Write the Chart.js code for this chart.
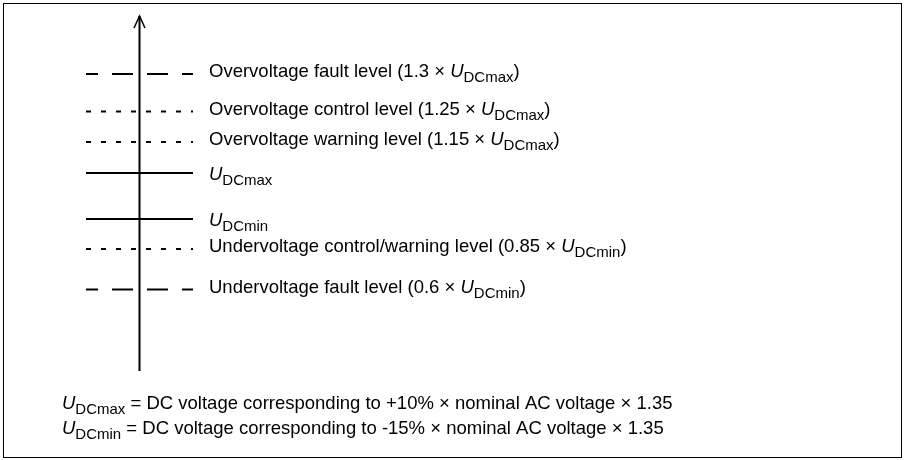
<!DOCTYPE html>
<html>
<head>
<meta charset="utf-8">
<script src="https://cdn.jsdelivr.net/npm/chart.js@4/dist/chart.umd.min.js"></script>
<style>
  html, body { margin: 0; padding: 0; background: #fff; }
  #wrap { position: relative; width: 907px; height: 460px; }
</style>
</head>
<body>
<div id="wrap"><canvas id="levels"></canvas></div>
<script>
// schematic height of each level on the vertical axis (axis runs 0..axisTop)
const levelType = ["fault", "control", "control", "limit", "limit", "control", "fault"];
const levelValues = [297, 259.5, 229, 198, 152, 122, 81.5];
const axisTop = 355;

// label text: prefix, then italic U with subscript, then suffix
const labelPre = [
  "Overvoltage fault level (1.3 × ",
  "Overvoltage control level (1.25 × ",
  "Overvoltage warning level (1.15 × ",
  "",
  "",
  "Undervoltage control/warning level (0.85 × ",
  "Undervoltage fault level (0.6 × "
];
const labelSub = ["DCmax", "DCmax", "DCmax", "DCmax", "DCmin", "DCmin", "DCmin"];
const labelPost = [")", ")", ")", "", "", ")", ")"];

const noteSub = ["DCmax", "DCmin"];
const noteText = [
  " = DC voltage corresponding to +10% × nominal AC voltage × 1.35",
  " = DC voltage corresponding to -15% × nominal AC voltage × 1.35"
];

const FONT = '"Liberation Sans", Arial, sans-serif';
const lineStyle = {
  fault: { dash: [21, 14], offset: 9 },
  control: { dash: [5, 10], offset: 0 },
  limit: { dash: [], offset: 0 }
};

const datasets = levelValues.map((v, i) => ({
  data: [{ x: -1, y: v }, { x: 1, y: v }],
  showLine: true,
  borderColor: "#000",
  borderWidth: 2,
  borderDash: lineStyle[levelType[i]].dash,
  borderDashOffset: lineStyle[levelType[i]].offset,
  borderCapStyle: "butt",
  pointRadius: 0
}));

// the vertical axis itself
datasets.push({
  data: [{ x: 0, y: 0 }, { x: 0, y: axisTop }],
  showLine: true,
  borderColor: "#000",
  borderWidth: 2,
  borderCapStyle: "butt",
  pointRadius: 0
});

function richText(ctx, x, y, pre, sub, post) {
  ctx.font = "18.5px " + FONT;
  ctx.fillText(pre, x, y);
  x += ctx.measureText(pre).width;
  ctx.font = "italic 18.5px " + FONT;
  ctx.fillText("U", x, y);
  x += ctx.measureText("U").width;
  ctx.font = "15px " + FONT;
  ctx.fillText(sub, x, y + 5);
  x += ctx.measureText(sub).width;
  ctx.font = "18.5px " + FONT;
  ctx.fillText(post, x, y);
}

const decor = {
  id: "decor",
  afterDraw(chart) {
    const ctx = chart.ctx;
    const xs = chart.scales.x, ys = chart.scales.y;
    ctx.save();
    // frame
    ctx.strokeStyle = "#000";
    ctx.lineWidth = 1;
    ctx.strokeRect(3.5, 3.5, 898, 454);

    // arrow head
    const ax = xs.getPixelForValue(0), ay = ys.getPixelForValue(axisTop);
    ctx.lineWidth = 1.5;
    ctx.beginPath();
    ctx.moveTo(ax - 5.5, ay + 12);
    ctx.lineTo(ax, ay);
    ctx.lineTo(ax + 5.5, ay + 12);
    ctx.stroke();

    // level labels
    ctx.fillStyle = "#000";
    ctx.textBaseline = "alphabetic";
    const lx = xs.right + 16;
    levelValues.forEach((v, i) => {
      const py = ys.getPixelForValue(v);
      const off = labelPre[i] ? 3 : 6.5;
      richText(ctx, lx, py + off, labelPre[i], labelSub[i], labelPost[i]);
    });

    // footnotes
    noteText.forEach((t, i) => {
      richText(ctx, 62, 409 + i * 25, "", noteSub[i], t);
    });
    ctx.restore();
  }
};

new Chart(document.getElementById("levels"), {
  type: "scatter",
  data: { datasets },
  options: {
    responsive: true,
    maintainAspectRatio: false,
    animation: false,
    layout: { padding: { left: 86, right: 714, top: 16, bottom: 89 } },
    plugins: { legend: { display: false }, tooltip: { enabled: false } },
    scales: {
      x: { type: "linear", min: -1, max: 1, display: false },
      y: { type: "linear", min: 0, max: axisTop, display: false }
    }
  },
  plugins: [decor]
});
</script>
</body>
</html>
